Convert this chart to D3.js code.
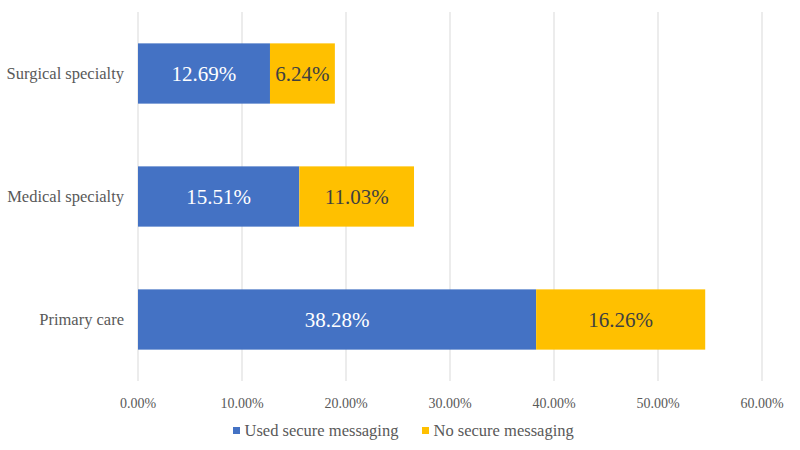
<!DOCTYPE html>
<html><head><meta charset="utf-8">
<script src="https://cdn.jsdelivr.net/npm/d3@7"></script>
</head><body style="margin:0;background:#fff"><svg id="c" width="800" height="450" style="display:block;font-family:'Times New Roman','Liberation Serif',Tinos,serif"></svg>
<script>
const categories = ["Surgical specialty", "Medical specialty", "Primary care"];
const seriesNames = ["Used secure messaging", "No secure messaging"];
const usedValues = [12.69, 15.51, 38.28];
const noValues = [6.24, 11.03, 16.26];
const xTicks = [0, 10, 20, 30, 40, 50, 60];
const colors = ["#4472C4", "#FFC000"];
const labelColors = ["#ffffff", "#404040"];
const FONT = '"Times New Roman", "Liberation Serif", Tinos, serif';

const svg = d3.select("#c");
const x = d3.scaleLinear().domain([0, 60]).range([138, 762]);
const y = d3.scaleBand().domain(categories).range([12, 381]).paddingInner(0.51).paddingOuter(0.255);

svg.append("g").selectAll("line").data(xTicks).join("line")
  .attr("x1", d => x(d)).attr("x2", d => x(d)).attr("y1", 12).attr("y2", 381)
  .attr("stroke", "#d9d9d9").attr("stroke-width", 1);

const rows = categories.map((c, i) => ({cat: c, vals: [usedValues[i], noValues[i]]}));
rows.forEach(r => {
  let acc = 0;
  r.vals.forEach((v, j) => {
    const x0 = x(acc), x1 = x(acc + v);
    svg.append("rect").attr("x", x0).attr("y", y(r.cat)).attr("width", x1 - x0).attr("height", y.bandwidth()).attr("fill", colors[j]);
    svg.append("text").attr("x", (x0 + x1) / 2).attr("y", y(r.cat) + y.bandwidth() / 2 + 7)
      .attr("text-anchor", "middle").style("font-family", FONT)
      .style("font-size", "21px").attr("fill", labelColors[j])
      .text(v.toFixed(2) + "%");
    acc += v;
  });
});

svg.append("g").selectAll("text").data(categories).join("text")
  .attr("x", 124).attr("y", d => y(d) + y.bandwidth() / 2 + 5.5)
  .attr("text-anchor", "end").style("font-family", FONT)
  .style("font-size", "16.5px").attr("fill", "#595959").text(d => d);

svg.append("g").selectAll("text").data(xTicks).join("text")
  .attr("x", d => x(d)).attr("y", 408).attr("text-anchor", "middle").style("font-family", FONT)
  .style("font-size", "14px").attr("fill", "#595959")
  .text(d => d.toFixed(2) + "%");

const legX = [233, 422];
seriesNames.forEach((s, i) => {
  svg.append("rect").attr("x", legX[i]).attr("y", 427).attr("width", 7).attr("height", 7).attr("fill", colors[i]);
  svg.append("text").attr("x", legX[i] + 11.5).attr("y", 436).style("font-family", FONT).style("font-size", "16.5px").attr("fill", "#595959").text(s);
});
</script></body></html>
